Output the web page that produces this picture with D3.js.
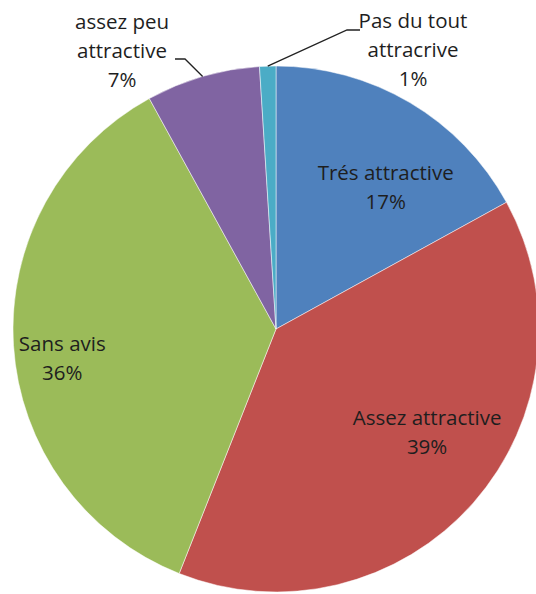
<!DOCTYPE html>
<html>
<head>
<meta charset="utf-8">
<script src="https://cdn.jsdelivr.net/npm/d3@7"></script>
<style>
  html, body { margin: 0; padding: 0; background: #fff; }
  svg { display: block; }
  text { font-family: "Open Sans", Lato, sans-serif; font-size: 20.5px; fill: #1e1e1e; }
</style>
</head>
<body>
<svg id="chart" width="536" height="594"></svg>
<script>
// Appréciation : parts des réponses, dans l'ordre horaire depuis midi
const categories = ["Trés attractive", "Assez attractive", "Sans avis", "assez peu attractive", "Pas du tout attracrive"];
const values = [17, 39, 36, 7, 1];
const labelLines = [
  ["Trés attractive", "17%"],
  ["Assez attractive", "39%"],
  ["Sans avis", "36%"],
  ["assez peu", "attractive", "7%"],
  ["Pas du tout", "attracrive", "1%"]
];
const colors = ["#4F81BD", "#C0504D", "#9BBB59", "#8064A2", "#4BACC6"];

const svg = d3.select("#chart");
const cx = 276, cy = 329, radius = 263;
const g = svg.append("g").attr("transform", `translate(${cx},${cy})`);

const pie = d3.pie().sort(null).value(d => d);
const arcs = pie(values);
const arc = d3.arc().innerRadius(0).outerRadius(radius);
const labelArc = d3.arc().innerRadius(radius * 0.7).outerRadius(radius * 0.7);
const edgeArc = d3.arc().innerRadius(radius).outerRadius(radius);

g.selectAll("path.slice")
  .data(arcs)
  .join("path")
  .attr("class", "slice")
  .attr("d", arc)
  .attr("fill", (d, i) => colors[i])
  .attr("stroke", "#fff")
  .attr("stroke-width", 0.5);

// Placement des étiquettes : décalage par rapport au centroïde (intérieures)
// ou position du bloc de texte (extérieures, avec ligne de rappel)
const lineHeight = 29;
const labelLayout = [
  { inside: true, dx: 16, dy: 9 },
  { inside: true, dx: 13, dy: -26 },
  { inside: true, dx: -30, dy: 10 },
  { inside: false, x: 122 - cx, y: 29 - cy, elbow: [[185 - cx, 59 - cy], [175 - cx, 59 - cy]] },
  { inside: false, x: 413 - cx, y: 28 - cy, elbow: [[347 - cx, 30 - cy], [360 - cx, 30 - cy]] }
];

arcs.forEach((a, i) => {
  const L = labelLayout[i];
  let x, y;
  if (L.inside) {
    const c = labelArc.centroid(a);
    x = c[0] + L.dx; y = c[1] + L.dy;
  } else {
    x = L.x; y = L.y;
    const start = edgeArc.centroid(a);
    g.append("path")
      .attr("d", d3.line()([start, ...L.elbow]))
      .attr("fill", "none")
      .attr("stroke", "#222")
      .attr("stroke-width", 1.3);
  }
  const t = g.append("text").attr("text-anchor", "middle");
  labelLines[i].forEach((line, j) => {
    t.append("tspan").attr("x", x).attr("y", y + j * lineHeight).text(line);
  });
});
</script>
</body>
</html>
